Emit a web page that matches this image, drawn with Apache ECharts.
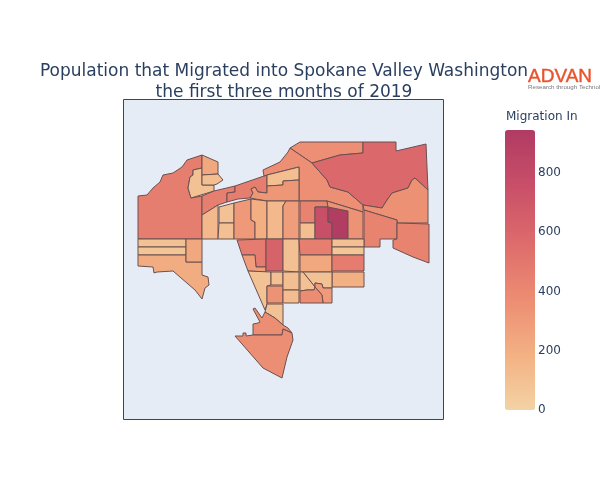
<!DOCTYPE html>
<html>
<head>
<meta charset="utf-8">
<title>Spokane Valley migration</title>
<script src="https://cdn.jsdelivr.net/npm/echarts@6/dist/echarts.min.js"></script>
<style>
html, body { margin: 0; padding: 0; background: #fff; }
#chart { width: 600px; height: 500px; }
</style>
</head>
<body>
<div id="chart"></div>
<script>
// tract names
const tractNames = ['A','B','C','D','E','F','H','I','J','K','L','M','N','O',
    'R1','R2','R3','R4','R5','R6','R7','R8','R9','R10','R11','R12',
    'W1','W2','W3','W4','W5','W6','W7','W8','W9','W10',
    'P1','P2','P3','P4','Q1','Q2','Q3','Q4','Q5','Q6','S1','S2','T1','T2','T3','T4'];

const migrationIn = [460,90,230,110,450,460,360,360,110,320,590,350,430,430,
    140,90,100,310,200,140,290,430,110,760,930,340,
    470,290,630,100,450,230,100,70,470,190,
    90,300,90,380,90,100,340,110,120,90,370,370,90,80,210,230];

// tract outlines, map units are screen pixels
const tractShapes = [
    [[138,196],[147,195],[153,188],[160,182],[163,175],[173,173],[182,167],[187,160],[202,155],[202,168],[193,170],[193,175],[190,177],[188,188],[191,198],[202,196],[202,239],[138,239]],
    [[193,170],[202,168],[202,175],[202,185],[214,185],[214,191],[191,198],[188,188],[190,177],[193,175]],
    [[202,155],[218,162],[218,174],[202,175]],
    [[202,175],[218,174],[223,180],[217,184],[214,185],[202,185]],
    [[202,196],[214,191],[235,186],[235,192],[227,193],[227,202],[218,205],[202,215]],
    [[227,193],[235,192],[235,186],[264,176],[267,175],[267,193],[258,192],[255,187],[251,189],[253,193],[250,198],[238,199],[227,202]],
    [[300,142],[363,142],[363,153],[340,155],[312,163],[290,148]],
    [[263,170],[280,162],[288,152],[290,148],[312,163],[327,180],[330,187],[348,192],[363,205],[363,212],[327,201],[299,201],[299,167],[267,175],[264,176]],
    [[267,175],[299,167],[299,180],[283,181],[283,185],[267,186]],
    [[267,186],[283,185],[283,181],[299,180],[299,201],[286,201],[267,201],[250,198],[253,193],[251,189],[255,187],[258,192],[267,193]],
    [[363,142],[396,142],[396,151],[426,144],[428,190],[415,178],[412,180],[408,188],[392,193],[387,200],[382,208],[363,205],[348,192],[330,187],[327,180],[312,163],[340,155],[363,153]],
    [[363,205],[382,208],[387,200],[392,193],[408,188],[412,180],[415,178],[428,190],[428,223],[397,223],[397,220],[364,210]],
    [[364,210],[397,220],[397,239],[380,239],[380,247],[364,247]],
    [[397,223],[429,224],[429,263],[413,257],[393,248],[393,240],[397,239]],
    [[202,215],[218,205],[218,239],[202,239]],
    [[219,207],[234,203],[234,223],[219,223]],
    [[219,223],[234,223],[234,239],[218,239]],
    [[234,203],[251,199],[251,220],[255,222],[255,239],[234,239]],
    [[251,199],[267,201],[267,239],[255,239],[255,222],[251,220]],
    [[267,201],[286,201],[283,206],[283,239],[267,239]],
    [[286,201],[299,201],[299,239],[283,239],[283,206]],
    [[300,201],[327,201],[328,207],[315,207],[315,223],[300,223]],
    [[300,223],[315,223],[315,239],[300,239]],
    [[315,207],[328,207],[328,222],[332,223],[332,239],[315,239]],
    [[328,207],[348,211],[348,239],[332,239],[332,223],[328,222]],
    [[327,201],[363,212],[363,239],[348,239],[348,211],[328,207]],
    [[237,240],[266,239],[266,267],[256,267],[255,255],[242,255]],
    [[242,255],[255,255],[256,267],[266,267],[266,272],[248,271]],
    [[266,239],[283,239],[283,271],[266,271]],
    [[283,239],[299,239],[299,272],[283,271]],
    [[299,239],[332,239],[332,255],[300,255]],
    [[300,255],[332,255],[332,272],[300,272]],
    [[332,239],[364,239],[364,247],[332,247]],
    [[332,247],[364,247],[364,255],[332,255]],
    [[332,255],[364,255],[364,271],[332,271]],
    [[332,272],[364,272],[364,287],[332,287]],
    [[303,272],[332,272],[332,288],[323,288],[322,284],[315,283],[315,287]],
    [[315,283],[322,284],[323,288],[332,288],[332,303],[323,303],[322,295],[315,287]],
    [[300,272],[303,272],[315,287],[314,290],[307,290],[300,291]],
    [[300,291],[307,290],[314,290],[315,287],[322,295],[323,303],[300,303]],
    [[248,271],[271,272],[271,285],[267,286],[267,304],[265,310]],
    [[271,272],[283,272],[283,285],[271,285]],
    [[267,286],[283,286],[283,303],[267,303]],
    [[283,272],[299,272],[299,290],[283,290]],
    [[283,290],[299,290],[299,303],[283,303]],
    [[267,304],[283,304],[283,325],[275,318],[265,312]],
    [[253,309],[255,308],[262,318],[265,312],[275,318],[283,325],[288,328],[292,333],[283,329],[282,335],[253,335],[253,324],[258,323],[260,322]],
    [[235,336],[243,336],[243,333],[246,333],[246,336],[253,335],[282,335],[283,329],[292,333],[293,340],[287,357],[282,378],[263,368]],
    [[138,239],[186,239],[186,247],[138,247]],
    [[138,247],[186,247],[186,255],[138,255]],
    [[138,255],[186,255],[186,262],[202,262],[202,275],[208,277],[209,285],[205,288],[202,299],[195,290],[173,271],[157,272],[154,273],[153,267],[138,266]],
    [[186,239],[202,239],[202,262],[186,262]]
];

const colorStops = ['#f3d3a4', '#f3b083', '#ec8c72', '#dd6b6b', '#c94f68', '#b03b63'];
const colorbarTicks = 200;
const labelFont = '"DejaVu Sans", sans-serif';

function buildGeoJson() {
    return {
        type: 'FeatureCollection',
        features: tractNames.map(function(name, i) {
            return {
                type: 'Feature',
                properties: { name: name },
                geometry: { type: 'Polygon', coordinates: [tractShapes[i].concat([tractShapes[i][0]])] }
            };
        })
    };
}

echarts.registerMap('spokane', buildGeoJson());

const chart = echarts.init(document.getElementById('chart'));
chart.setOption({
    animation: false,
    textStyle: { fontFamily: labelFont },
    title: [{
        text: 'Population that Migrated into Spokane Valley Washington\nthe first three months of 2019',
        left: 279,
        top: 56,
        textAlign: 'center',
        textStyle: { fontSize: 17, fontWeight: 'normal', color: '#2a3f5f', lineHeight: 21, fontFamily: labelFont }
    }, {
        text: 'Migration In',
        left: 506,
        top: 111,
        padding: 0,
        textStyle: { fontSize: 12, fontWeight: 'normal', color: '#2a3f5f', fontFamily: labelFont }
    }],
    graphic: [{
        type: 'rect',
        z: -1,
        shape: { x: 123.5, y: 99.5, width: 320, height: 320 },
        style: { fill: '#e5ecf6', stroke: '#444', lineWidth: 1 }
    }, {
        type: 'text',
        x: 528,
        y: 67,
        style: { text: 'ADVAN', fill: '#e8532b', stroke: '#e8532b', lineWidth: 0.4, font: '19px "Liberation Sans", sans-serif' }
    }, {
        type: 'text',
        x: 528,
        y: 84,
        style: { text: 'Research through Technology', fill: '#77787b', font: '6.2px "Liberation Sans", sans-serif' }
    }],
    grid: { left: 505, top: 130, width: 30, height: 280, show: false },
    xAxis: { type: 'value', show: false },
    yAxis: {
        type: 'value',
        position: 'right',
        min: 0,
        max: 945,
        interval: colorbarTicks,
        axisLine: { show: false },
        axisTick: { show: false },
        splitLine: { show: false },
        axisLabel: { color: '#2a3f5f', fontSize: 12, margin: 3, showMaxLabel: false, fontFamily: labelFont }
    },
    visualMap: {
        type: 'continuous',
        min: 0,
        max: 945,
        left: 505,
        top: 130,
        padding: 0,
        itemWidth: 30,
        itemHeight: 280,
        borderRadius: 0,
        calculable: false,
        realtime: false,
        text: null,
        seriesIndex: 0,
        inRange: { color: colorStops }
    },
    geo: {
        map: 'spokane',
        projection: {
            project: function(p) { return p; },
            unproject: function(p) { return p; }
        },
        boundingCoords: [[124, 100], [443, 420]],
        left: 124,
        top: 100,
        width: 319,
        height: 320,
        roam: false,
        silent: true,
        label: { show: false },
        itemStyle: { borderColor: '#6b5050', borderWidth: 1 }
    },
    series: [{
        type: 'map',
        geoIndex: 0,
        silent: true,
        data: tractNames.map(function(name, i) {
            return { name: name, value: migrationIn[i] };
        })
    }]
});
</script>
</body>
</html>
